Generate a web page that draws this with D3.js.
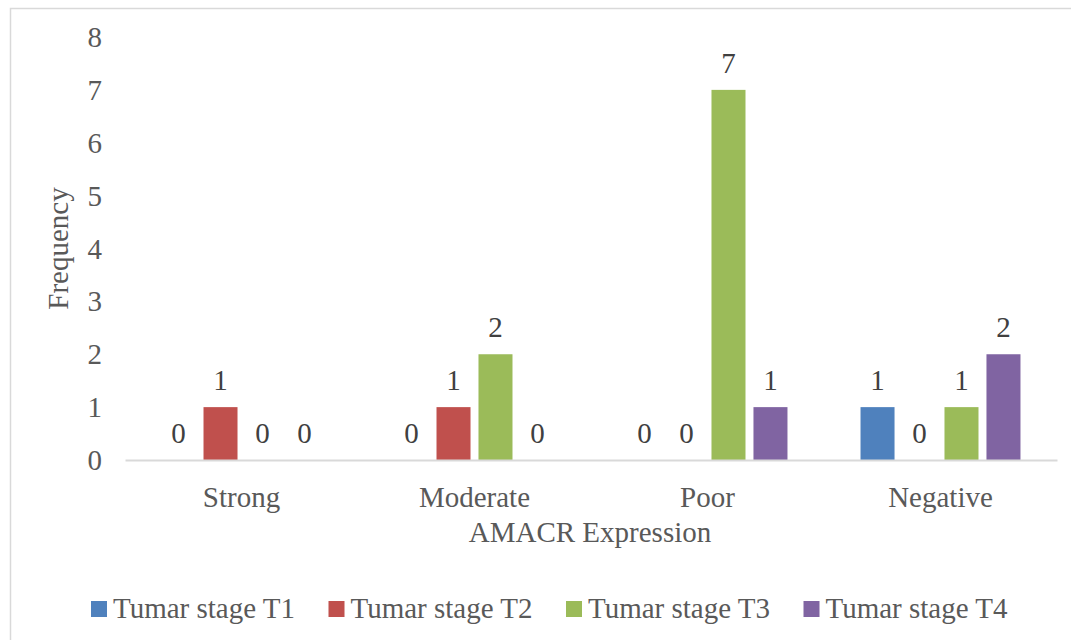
<!DOCTYPE html>
<html>
<head>
<meta charset="utf-8">
<script src="https://cdn.jsdelivr.net/npm/d3@7/dist/d3.min.js"></script>
<style>
  html, body { margin: 0; padding: 0; background: #ffffff; }
  svg { display: block; font-family: "Liberation Serif", "Times New Roman", serif; }
</style>
</head>
<body>
<svg id="chart" width="1071" height="640"></svg>
<script>
// AMACR expression by tumour stage
const categories = ["Strong", "Moderate", "Poor", "Negative"];
const seriesNames = ["Tumar stage T1", "Tumar stage T2", "Tumar stage T3", "Tumar stage T4"];
const t1Values = [0, 0, 0, 1];
const t2Values = [1, 1, 0, 0];
const t3Values = [0, 2, 7, 1];
const t4Values = [0, 0, 1, 2];
const yTicks = [0, 1, 2, 3, 4, 5, 6, 7, 8];
const seriesColors = ["#4F81BD", "#C0504D", "#9BBB59", "#8064A2"];
const xTitle = "AMACR Expression";
const yTitle = "Frequency";

const seriesValues = [t1Values, t2Values, t3Values, t4Values];
const rows = categories.map((c, i) => ({
  category: c,
  values: seriesNames.map((s, j) => ({ series: s, idx: j, value: seriesValues[j][i] }))
}));

const svg = d3.select("#chart");
const plot = { left: 125, right: 1057, top: 37, bottom: 460 };

// chart frame
svg.append("rect")
  .attr("x", 10.5).attr("y", 8.5)
  .attr("width", 1070).attr("height", 640)
  .attr("fill", "none").attr("stroke", "#d9d9d9").attr("stroke-width", 1.5);

const x0 = d3.scaleBand().domain(categories).range([plot.left, plot.right]).padding(0);
const x1 = d3.scaleBand().domain(seriesNames).range([0, x0.bandwidth()])
  .paddingInner(0.19).paddingOuter(0.87);
const y = d3.scaleLinear().domain([0, 8]).range([plot.bottom, plot.top]);

// y axis labels (no axis line, no gridlines)
const yAxis = d3.axisLeft(y).tickValues(yTicks).tickSize(0).tickPadding(0).tickFormat(d3.format("d"));
const yg = svg.append("g").attr("transform", `translate(102,0)`).call(yAxis);
yg.select(".domain").remove();
yg.selectAll("text")
  .attr("font-family", "Liberation Serif, serif")
  .attr("font-size", 29).attr("fill", "#595959").attr("dy", "0.33em");

// bars
const groups = svg.append("g").selectAll("g").data(rows).join("g")
  .attr("transform", d => `translate(${x0(d.category)},0)`);

groups.selectAll("rect").data(d => d.values).join("rect")
  .attr("x", d => x1(d.series))
  .attr("y", d => y(d.value))
  .attr("width", x1.bandwidth())
  .attr("height", d => y(0) - y(d.value))
  .attr("fill", d => seriesColors[d.idx]);

// value labels
groups.selectAll("text").data(d => d.values).join("text")
  .attr("x", d => x1(d.series) + x1.bandwidth() / 2)
  .attr("y", d => y(d.value) - 17)
  .attr("text-anchor", "middle")
  .attr("font-size", 29).attr("fill", "#404040")
  .text(d => d.value);

// x axis
const xAxis = d3.axisBottom(x0).tickSize(0).tickPadding(0);
const xg = svg.append("g").attr("transform", `translate(0,${plot.bottom})`).call(xAxis);
xg.select(".domain").attr("stroke", "#d9d9d9").attr("stroke-width", 2);
xg.selectAll("text")
  .attr("font-family", "Liberation Serif, serif")
  .attr("font-size", 29).attr("fill", "#595959")
  .attr("dy", null).attr("y", 47);

// axis titles
svg.append("text")
  .attr("x", (plot.left + plot.right) / 2 - 1).attr("y", 542)
  .attr("text-anchor", "middle").attr("font-size", 29).attr("fill", "#595959")
  .text(xTitle);

svg.append("text")
  .attr("transform", `translate(68,${(plot.top + plot.bottom) / 2}) rotate(-90)`)
  .attr("text-anchor", "middle").attr("font-size", 29).attr("fill", "#595959")
  .text(yTitle);

// legend
const legendX = d3.scaleBand().domain(seriesNames).range([91, 91 + 4 * 237.5]);
const legend = svg.append("g").selectAll("g").data(seriesNames).join("g")
  .attr("transform", d => `translate(${legendX(d)},0)`);
legend.append("rect")
  .attr("x", 0).attr("y", 601).attr("width", 16).attr("height", 16)
  .attr("fill", (d, i) => seriesColors[i]);
legend.append("text")
  .attr("x", 22).attr("y", 618)
  .attr("font-size", 29).attr("fill", "#595959")
  .text(d => d);
</script>
</body>
</html>
